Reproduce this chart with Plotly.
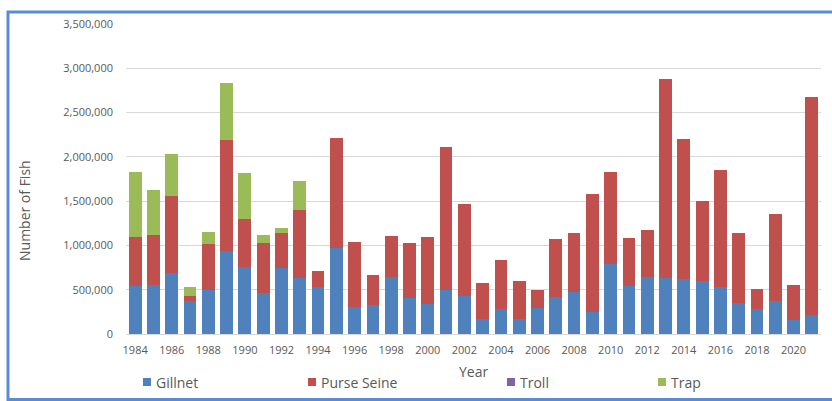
import plotly.graph_objects as go

# Annual harvest by gear type, 1984-2021
years = list(range(1984, 2022))

gillnet = [542000, 553000, 685000, 373000, 497000, 937000, 760000, 467000, 749000, 628000,
           527000, 975000, 305000, 327000, 644000, 403000, 339000, 497000, 433000, 173000,
           279000, 166000, 290000, 414000, 474000, 252000, 786000, 542000, 640000, 628000,
           621000, 594000, 531000, 350000, 282000, 369000, 155000, 218000]

purse_seine = [556000, 568000, 877000, 56000, 523000, 1250000, 535000, 564000, 388000, 768000,
               188000, 1234000, 734000, 343000, 462000, 628000, 760000, 1618000, 1035000, 407000,
               556000, 432000, 210000, 655000, 663000, 1325000, 1039000, 542000, 538000, 2255000,
               1584000, 911000, 1321000, 787000, 226000, 986000, 398000, 2461000]

troll = [0] * len(years)

trap = [734000, 505000, 474000, 105000, 135000, 650000, 519000, 87000, 63000, 331000,
        0, 0, 0, 0, 0, 0, 0, 0, 0, 0,
        0, 0, 0, 0, 0, 0, 0, 0, 0, 0,
        0, 0, 0, 0, 0, 0, 0, 0]

tick_years = list(range(1984, 2022, 2))
y_ticks = [0, 500000, 1000000, 1500000, 2000000, 2500000, 3000000, 3500000]

series = [
    ("Gillnet", gillnet, "#4F81BD"),
    ("Purse Seine", purse_seine, "#C0504D"),
    ("Troll", troll, "#8064A2"),
    ("Trap", trap, "#9BBB59"),
]

FONT = "Open Sans"
GREY = "#595959"

# plot-area geometry in pixels
W, H = 832, 401
L, R, T, B = 126, 11, 24, 67
pw, ph = W - L - R, H - T - B


def px_x(x):
    return (x - L) / pw


def px_y(y):
    return (H - B - y) / ph


fig = go.Figure()
for name, vals, color in series:
    fig.add_trace(go.Bar(
        x=years, y=vals, name=name,
        marker=dict(color=color, line=dict(width=0)),
        showlegend=False,
    ))

# legend row along the bottom: coloured square + label per series
legend_x = [143, 308, 507, 658]
legend_y = 382
shapes = []
annotations = []
for (name, _, color), lx in zip(series, legend_x):
    shapes.append(dict(type="rect", xref="paper", yref="paper",
                       x0=px_x(lx), x1=px_x(lx + 8),
                       y0=px_y(legend_y + 4), y1=px_y(legend_y - 4),
                       line=dict(width=0), fillcolor=color))
    annotations.append(dict(text=name, xref="paper", yref="paper",
                            x=px_x(lx + 11), y=px_y(legend_y), showarrow=False,
                            xanchor="left", yanchor="middle",
                            font=dict(family=FONT, size=14, color=GREY)))

annotations += [
    dict(text="Number of Fish", xref="paper", yref="paper",
         x=px_x(24), y=px_y(211), textangle=-90, showarrow=False,
         font=dict(family=FONT, size=14, color=GREY),
         xanchor="center", yanchor="middle"),
    dict(text="Year", xref="paper", yref="paper",
         x=px_x(473), y=px_y(371), showarrow=False,
         font=dict(family=FONT, size=14, color=GREY),
         xanchor="center", yanchor="middle"),
]

# outer frame
shapes.append(dict(type="rect", xref="paper", yref="paper",
                   x0=px_x(8), x1=px_x(845), y0=px_y(399.5), y1=px_y(12),
                   line=dict(color="#5B8BD3", width=3), fillcolor="rgba(0,0,0,0)",
                   layer="below"))

fig.update_layout(
    width=W, height=H,
    margin=dict(l=L, r=R, t=T, b=B, autoexpand=False),
    barmode="stack", bargap=0.3,
    paper_bgcolor="white", plot_bgcolor="white",
    font=dict(family=FONT, size=11, color=GREY),
    showlegend=False,
    xaxis=dict(
        range=[1983.5, 2021.5],
        tickmode="array", tickvals=tick_years, ticktext=[str(y) for y in tick_years],
        tickfont=dict(family=FONT, size=11, color=GREY),
        showgrid=False, zeroline=False, showline=False, ticks="",
        ticklabelstandoff=8,
    ),
    yaxis=dict(
        range=[0, 3500000],
        tickmode="array", tickvals=y_ticks,
        ticktext=[f"{v:,}" for v in y_ticks],
        tickfont=dict(family=FONT, size=11, color=GREY),
        showgrid=True, gridcolor="#D9D9D9", gridwidth=1,
        zeroline=True, zerolinecolor="#D9D9D9", zerolinewidth=1,
        showline=False, ticks="", ticklabelstandoff=12,
    ),
    annotations=annotations,
    shapes=shapes,
)

fig.write_html("out.html")
